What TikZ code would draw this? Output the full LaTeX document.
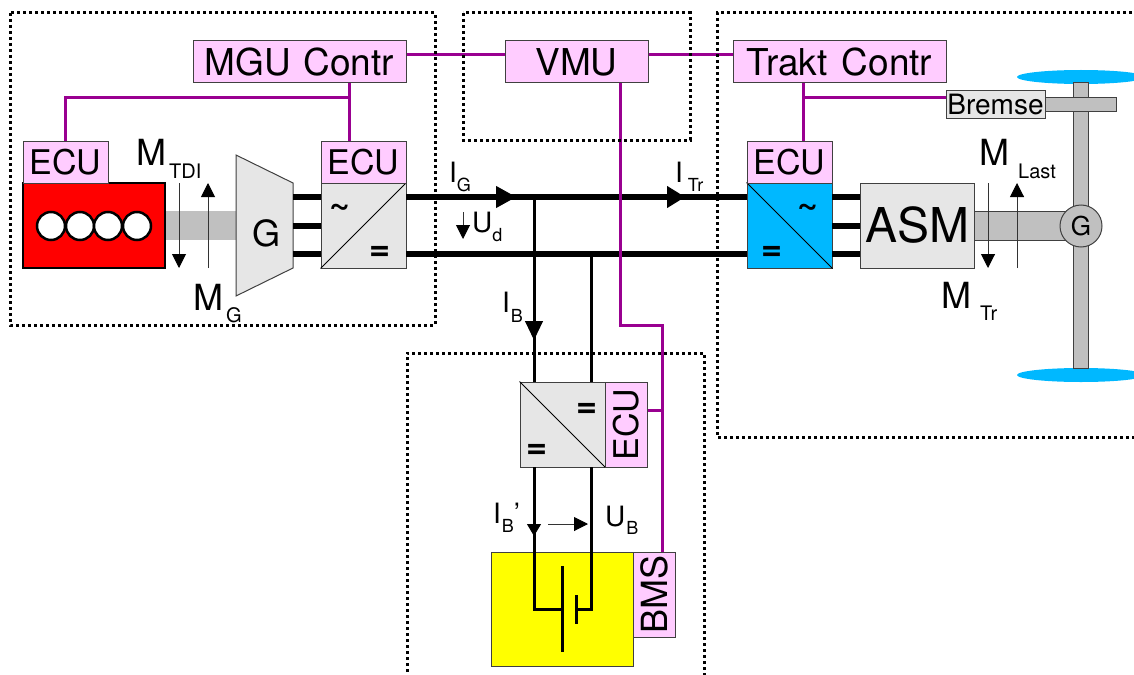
\documentclass[tikz,border=0pt]{standalone}
\usepackage{fontspec}
\setmainfont{TeX Gyre Heros}
\usetikzlibrary{arrows.meta}
\definecolor{ctrlpink}{HTML}{FFCCFF}
\definecolor{signal}{HTML}{990090}
\definecolor{cellblue}{HTML}{00B8FF}
\definecolor{shaftgray}{HTML}{C0C0C0}
\definecolor{unitgray}{HTML}{E6E6E6}
\definecolor{battyellow}{RGB}{255,255,0}
\definecolor{enginered}{RGB}{255,0,0}
\newcommand{\fsz}[1]{\fontsize{#1}{#1}\selectfont}
\newcommand{\sublab}[5]{#1\hspace{#2pt}\raisebox{-#3pt}{\fsz{#4}#5}}
\tikzset{
	box/.style={draw=black!75, line width=1pt, inner sep=0pt, minimum width=#1},
	ctrl/.style={box=#1, fill=ctrlpink, minimum height=42pt, font=\fsz{37}},
	ecu/.style={box=85pt, fill=ctrlpink, minimum height=42pt, font=\fsz{34}},
	unit/.style={box=85pt, fill=unitgray, minimum height=85pt},
	sym/.style={inner sep=0pt, font=\fsz{36}\bfseries},
	biglab/.style={inner sep=0pt, anchor=base west, font=\fsz{36}},
	midlab/.style={inner sep=0pt, anchor=base west, font=\fsz{28}},
	bus/.style={line width=6pt, line cap=butt},
	wire/.style={line width=3pt},
	signalline/.style={line width=3pt, color=signal},
	shaft/.style={draw=black!75, line width=1pt, fill=shaftgray},
	zone/.style={line width=3pt, dash pattern=on 3pt off 3pt},
	thinarrow/.style={line width=1pt, color=black!80, -{Triangle[length=14pt, width=14pt, color=black]}}
}
\begin{document}
\begin{tikzpicture}[x=1pt, y=-1pt]
	\useasboundingbox (0,0) rectangle (1134,674);
	\fill[cellblue] (1081,77) ellipse (64 and 7);
	\fill[cellblue] (1081,375) ellipse (64 and 7);
	\draw[shaft] (1073,83) rectangle (1088,368);
	\draw[shaft] (1045,98) rectangle (1116,112);
	\fill[shaftgray] (165,211) rectangle (237,240);
	\draw[shaft] (974,211) rectangle (1065,240);
	\node[circle, shaft, inner sep=0pt, minimum size=42pt, font=\fsz{26}] (wheelg) at (1081,226) {G};
	\node[box=142pt, fill=enginered, minimum height=85pt, line width=2.5pt, draw=black] (engine) at (94,225.5) {};
	\foreach \x in {51,80,108,137}
		\draw[fill=white, line width=2.5pt] (\x,226) circle (14);
	\node[ecu] (ecue) at (65.5,162) {ECU};
	\draw[draw=black!75, line width=1pt, fill=unitgray] (236,155) -- (293,183) -- (293,268) -- (236,296) -- cycle;
	\node[inner sep=0pt, font=\fsz{36}] (genr) at (266,233) {G};
	\node[unit] (invg) at (363.5,225.5) {};
	\draw[line width=1pt] (invg.south west) -- (invg.north east);
	\node[sym] (invgac) at (340,210) {\textasciitilde};
	\node[sym] (invgdc) at (380,253) {=};
	\node[ecu] (ecug) at (363.5,162) {ECU};
	\node[unit, fill=cellblue] (invt) at (789.5,225.5) {};
	\draw[line width=1pt] (invt.north west) -- (invt.south east);
	\node[sym] (invtac) at (808,210) {\textasciitilde};
	\node[sym] (invtdc) at (772,253) {=};
	\node[ecu] (ecut) at (789.5,162) {ECU};
	\node[box=114pt, fill=unitgray, minimum height=85pt, font=\fsz{48}] (asm) at (917,225.5) {ASM};
	\node[ctrl=213pt] (mgu) at (299.5,62) {MGU\hspace{2pt} Contr};
	\node[ctrl=143pt] (vmu) at (576.5,62) {VMU};
	\node[ctrl=213pt] (trakt) at (839.5,62) {Trakt\hspace{4pt} Contr};
	\node[box=99pt, fill=unitgray, minimum height=28pt, font=\fsz{28}] (bremse) at (995.5,105) {Bremse};
	\node[unit] (dcdc) at (562.5,424.5) {};
	\draw[line width=1pt] (dcdc.north west) -- (dcdc.south east);
	\node[sym] (dcdcup) at (587,410) {=};
	\node[sym] (dcdclow) at (537,451) {=};
	\node[ecu, rotate=90] (ecud) at (626.5,424.5) {ECU};
	\node[box=142pt, fill=battyellow, minimum height=114pt] (batt) at (562,609) {};
	\node[ecu, rotate=90, font=\fsz{36}] (bms) at (654.5,594.5) {BMS};
	\coordinate (gena) at (293,197);
	\coordinate (genb) at (293,226);
	\coordinate (genc) at (293,254);
	\coordinate (inga) at (321,197);
	\coordinate (ingb) at (321,226);
	\coordinate (ingc) at (321,254);
	\coordinate (buslt) at (406,197);
	\coordinate (buslb) at (406,254);
	\coordinate (busrt) at (747,197);
	\coordinate (busrb) at (747,254);
	\coordinate (outta) at (832,197);
	\coordinate (outtb) at (832,226);
	\coordinate (outtc) at (832,254);
	\coordinate (asma) at (860,197);
	\coordinate (asmb) at (860,226);
	\coordinate (asmc) at (860,254);
	\coordinate (tailg) at (496,197);
	\coordinate (tipg) at (516,197);
	\coordinate (tailt) at (667,197);
	\coordinate (tipt) at (685,197);
	\draw[bus] (gena) -- (inga);
	\draw[bus] (genb) -- (ingb);
	\draw[bus] (genc) -- (ingc);
	\draw[bus] (outta) -- (asma);
	\draw[bus] (outtb) -- (asmb);
	\draw[bus] (outtc) -- (asmc);
	\draw[bus] (buslt) -- (busrt);
	\draw[bus] (buslb) -- (busrb);
	\draw[line width=1pt, -{Triangle[length=20pt, width=22pt]}] (tailg) -- (tipg);
	\draw[line width=1pt, -{Triangle[length=18pt, width=22pt]}] (tailt) -- (tipt);
	\coordinate (jplus) at (534,197);
	\coordinate (jminus) at (591,254);
	\coordinate (tailb) at (534,321);
	\coordinate (tipb) at (534,340);
	\coordinate (dcin) at (534,382);
	\coordinate (dcret) at (591,382);
	\coordinate (dcout) at (534,467);
	\coordinate (dcback) at (591,467);
	\coordinate (tailc) at (534,524);
	\coordinate (tipc) at (534,536);
	\coordinate (plate) at (562,609);
	\coordinate (shortplate) at (576,609);
	\draw[wire] (jplus) -- (dcin);
	\draw[wire] (jminus) -- (dcret);
	\draw[line width=1pt, -{Triangle[length=19pt, width=18pt]}] (tailb) -- (tipb);
	\draw[wire] (dcout) |- (plate);
	\draw[wire] (dcback) |- (shortplate);
	\draw[line width=1pt, -{Triangle[length=12pt, width=14pt]}] (tailc) -- (tipc);
	\draw[wire] (562,566) -- (562,652);
	\draw[wire] (576,595) -- (576,624);
	\coordinate (mguout) at (349,83);
	\coordinate (mgutap) at (349,98);
	\coordinate (ecugin) at (349,141);
	\coordinate (traktout) at (803,83);
	\coordinate (trakttap) at (803,98);
	\coordinate (ecutin) at (803,141);
	\coordinate (vmuout) at (620,83);
	\coordinate (vmuturn) at (620,325);
	\coordinate (ecudtap) at (662,410);
	\coordinate (bmsin) at (662,552);
	\draw[signalline] (mgu.east |- 0,55) -- (vmu.west |- 0,55);
	\draw[signalline] (vmu.east |- 0,55) -- (trakt.west |- 0,55);
	\draw[signalline] (mguout) -- (ecugin);
	\draw[signalline] (mgutap) -| (ecue.north);
	\draw[signalline] (traktout) -- (ecutin);
	\draw[signalline] (trakttap) -- (trakttap -| bremse.west);
	\draw[signalline] (vmuout) -- (vmuturn) -| (bmsin);
	\draw[signalline] (ecudtap -| ecud.south) -- (ecudtap);
	\draw[thinarrow] (179,183) -- (179,268);
	\draw[thinarrow] (208,268) -- (208,183);
	\draw[thinarrow] (988,183) -- (988,268);
	\draw[thinarrow] (1017,268) -- (1017,183);
	\draw[thinarrow] (463,212) -- (463,239);
	\draw[thinarrow] (548,524) -- (588,524);
	\node[biglab] (mtdi) at (136,165) {\sublab{M}{3}{13}{20}{TDI}};
	\node[biglab] (mg) at (193,310) {\sublab{M}{3}{12}{20}{G}};
	\node[biglab] (mlast) at (979,165) {\sublab{M}{9}{13}{20}{Last}};
	\node[biglab] (mtr) at (941,308) {\sublab{M}{9}{12}{20}{Tr}};
	\node[midlab] (ig) at (449,182) {\sublab{I}{0}{9}{18}{G}};
	\node[midlab] (itr) at (675,182) {\sublab{I}{5}{9}{18}{Tr}};
	\node[midlab] (ud) at (472,232) {\sublab{U}{0}{9}{18}{d}};
	\node[midlab] (ib) at (502,312) {\sublab{I}{1}{10}{18}{B}};
	\node[midlab] (ibs) at (493,523) {\sublab{I}{1}{9}{18}{B}'};
	\node[midlab] (ub) at (605,526) {\sublab{U}{1}{8}{18}{B}};
	\draw[zone] (10,13) rectangle (435,325);
	\draw[zone] (463,13) rectangle (690,140);
	\draw[zone] (1150,13) -- (717,13) -- (717,437) -- (1150,437);
	\draw[zone] (407,690) -- (407,353) -- (704,353) -- (704,690);
\end{tikzpicture}
\end{document}
